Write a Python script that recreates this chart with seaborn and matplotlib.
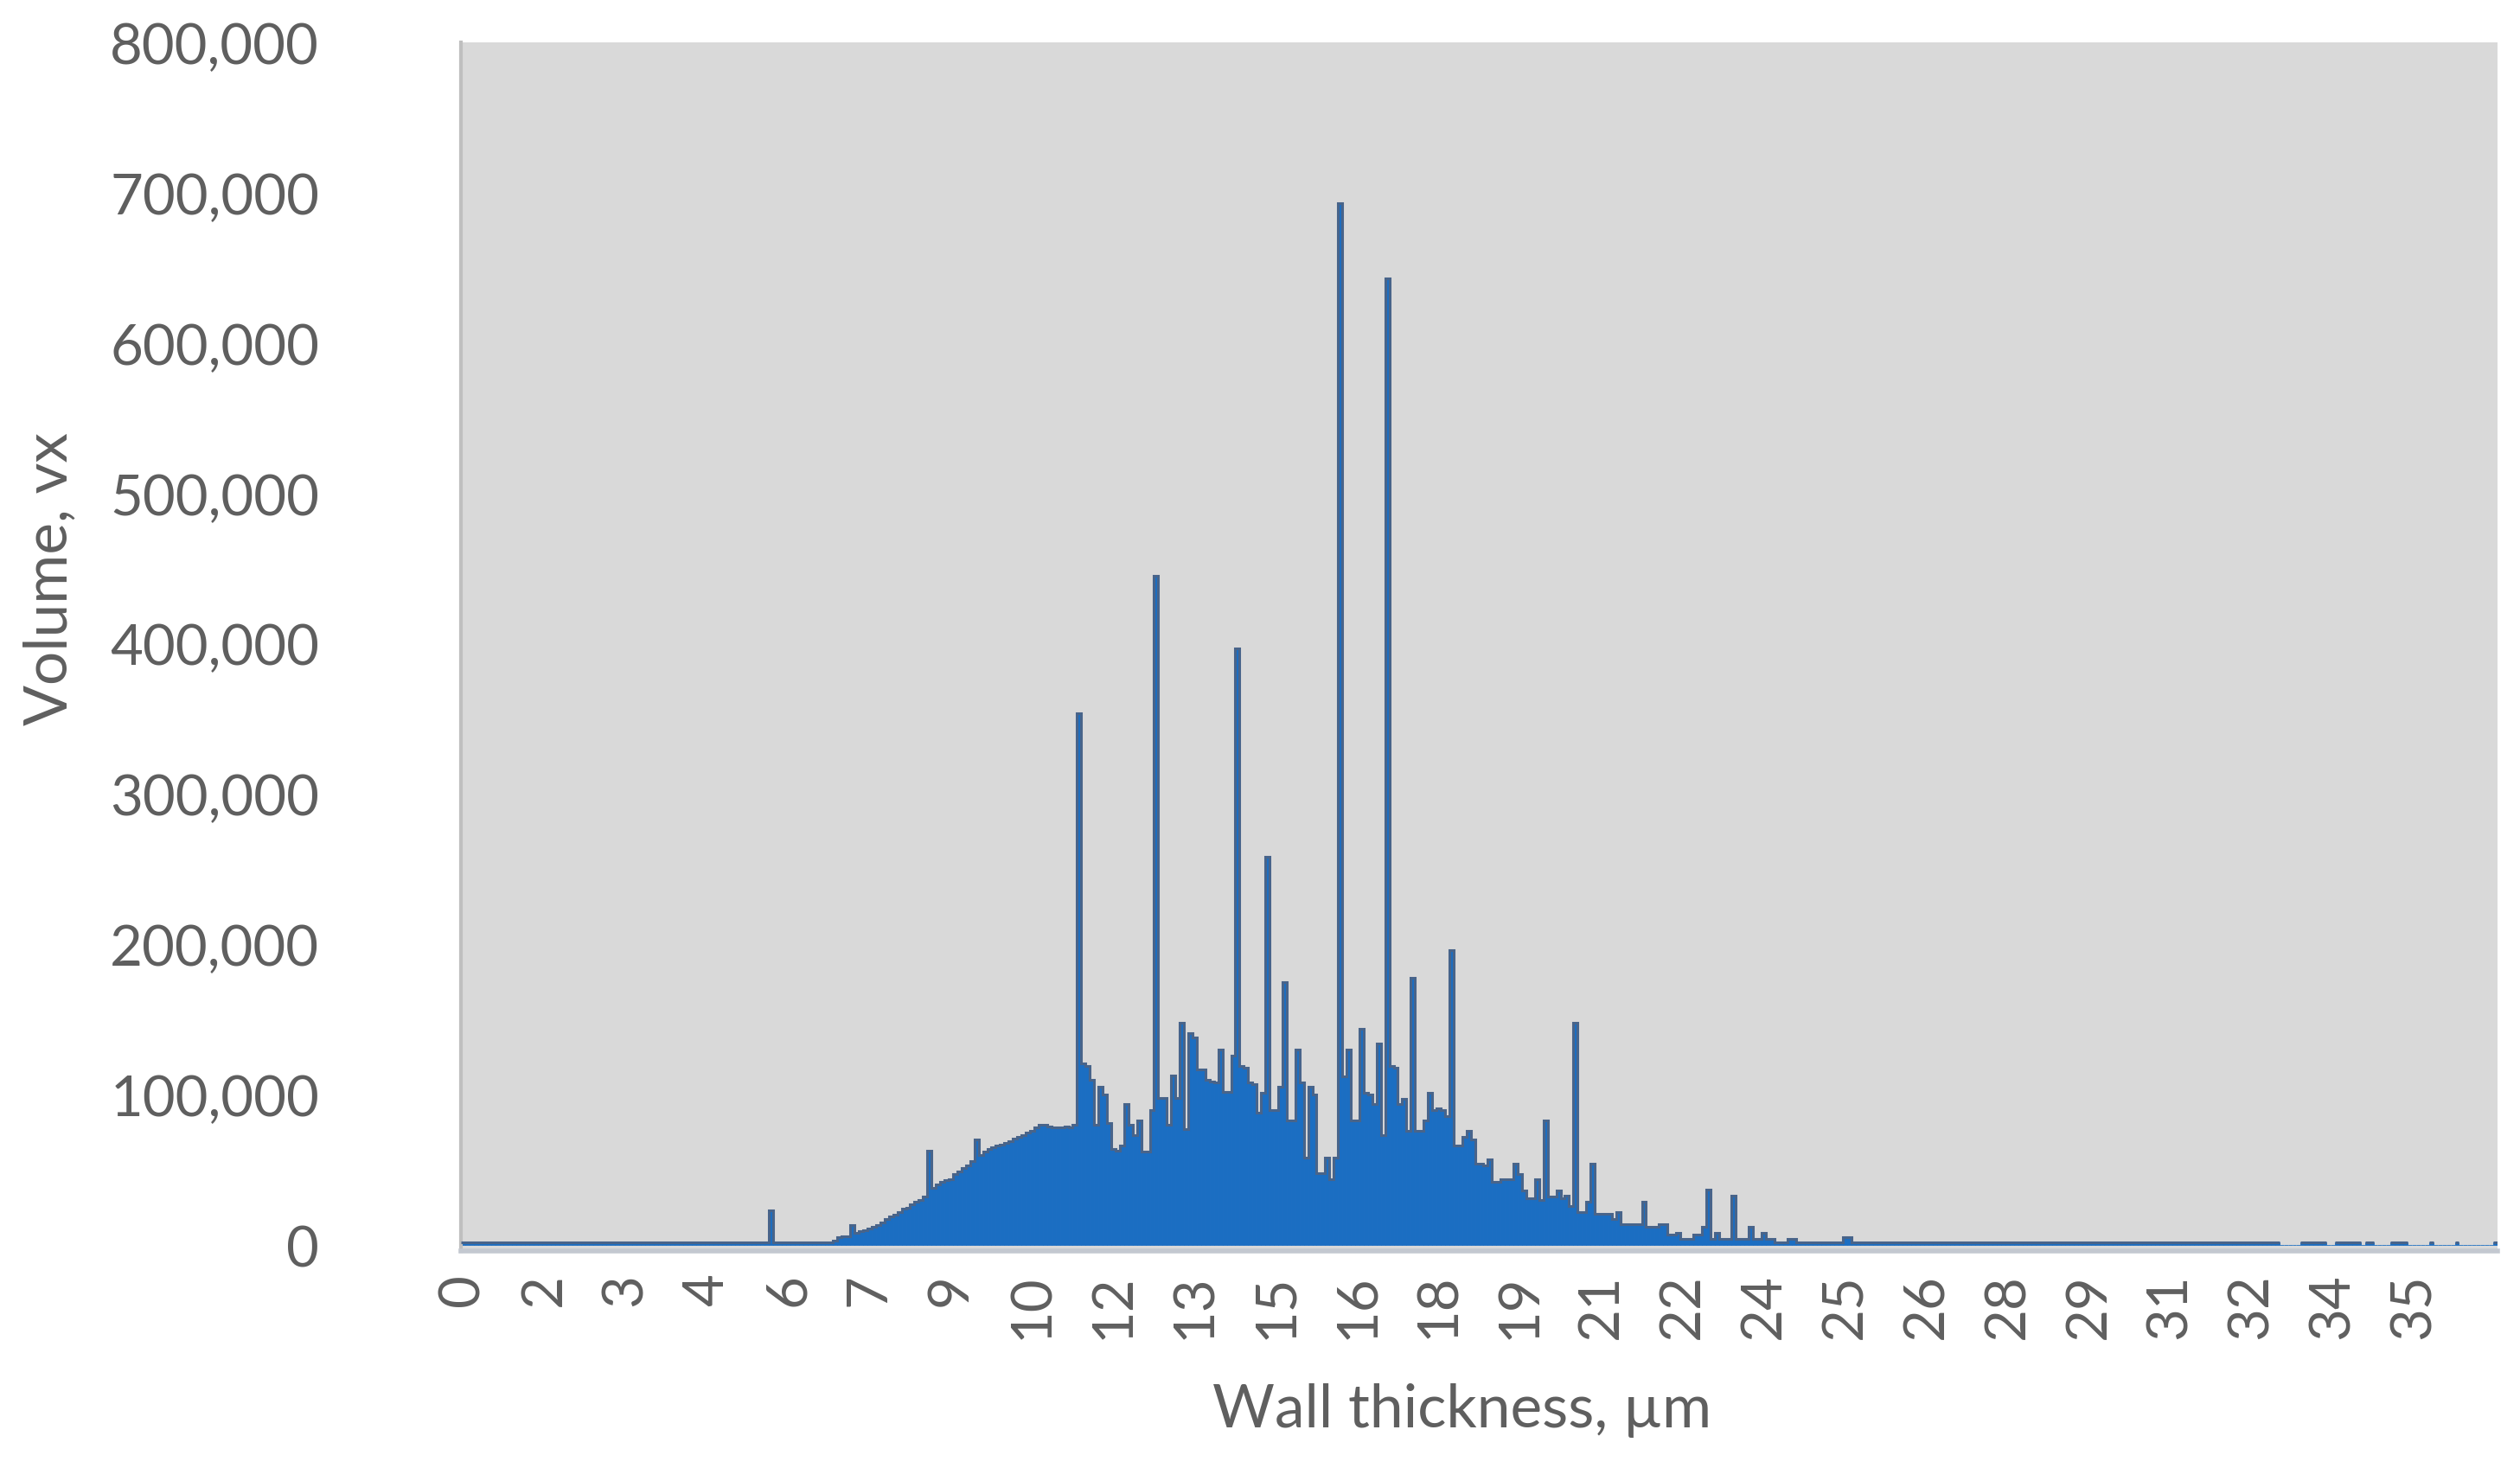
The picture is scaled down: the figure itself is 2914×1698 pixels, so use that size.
import numpy as np
import pandas as pd
import matplotlib
matplotlib.use('Agg')
import matplotlib.pyplot as plt
from matplotlib.ticker import FuncFormatter
import seaborn as sns

# Volume per wall-thickness bin, in thousands of voxels
lead_in = [2] * 72 + [23] + [2] * 13
rise = [2, 3, 5, 6, 6, 13, 8, 9, 10, 11,
        12, 13, 15, 17, 19, 20, 22, 24, 25, 27,
        29, 30, 32, 63, 38, 40, 42, 43, 44, 47,
        49, 51, 53, 56, 70, 60, 62, 64, 65, 66,
        67, 68, 69, 71, 72, 73, 75, 76, 78, 80,
        80, 79, 78, 78, 78, 79, 78, 80]
peak = [354, 121, 119, 110, 80, 105, 100, 81, 64, 63,
        66, 94, 80, 73, 83, 62, 62, 90, 445, 98,
        98, 80, 113, 98, 148, 77, 141, 138, 117, 117,
        110, 109, 108, 130, 102, 102, 126, 397, 119, 118,
        108, 107, 88, 101, 258, 90, 90, 105, 175, 83,
        83, 130, 108, 58, 105, 100, 48, 48, 58, 44,
        58, 693, 112, 130, 83, 83, 144, 101, 100, 94,
        134, 73, 643, 119, 118, 94, 97, 76, 178, 76,
        76, 83, 101, 90, 91, 90, 86, 196, 66, 66]
fall = [72, 76, 70, 54, 54, 53, 57, 42, 42, 44,
        44, 44, 54, 47, 36, 31, 31, 44, 30, 83,
        32, 32, 36, 31, 33, 26, 148, 22, 22, 29,
        54, 21, 21, 21, 21, 17, 22, 14, 14, 14,
        14, 14, 29, 12, 12, 12, 14, 14, 7, 7,
        8, 4, 4, 4, 7, 7, 12, 37, 4, 8,
        4, 4, 4, 33, 4, 4, 4, 12, 4, 4,
        8, 4, 4, 2, 2, 2, 4, 4, 2, 2]
tail = ([2] * 9 + [5, 5] + [2] * 100
        + [0] * 5 + [1.5] * 6 + [0] * 2 + [1.5] * 6 + [0] + [1.5] * 2
        + [0] * 4 + [1.5] * 4 + [0] * 5 + [1.5] + [0] * 5 + [1.5]
        + [0] * 8 + [1.5])
volume_k = lead_in + rise + peak + fall + tail

thickness_labels = ['0', '2', '3', '4', '6', '7', '9', '10', '12', '13',
                    '15', '16', '18', '19', '21', '22', '24', '25', '26',
                    '28', '29', '31', '32', '34', '35']
label_step = 19
ytick_values = [0, 100000, 200000, 300000, 400000, 500000, 600000, 700000,
                800000]

fill = '#1b6ec2'
edge = '#48648a'
text_grey = '#5f5f5f'

sns.set_style('white')
plt.rcParams['font.family'] = ['Lato', 'DejaVu Sans']

df = pd.DataFrame({'bin': np.arange(len(volume_k)),
                   'volume': np.array(volume_k, dtype=float) * 1000})

fig, ax = plt.subplots(figsize=(14.57, 8.495), dpi=200)
fig.subplots_adjust(left=533 / 2914, right=2888 / 2914,
                    bottom=1 - 1448 / 1699, top=1 - 50 / 1699)

sns.barplot(data=df, x='bin', y='volume', color=fill, saturation=1,
            width=1, errorbar=None, linewidth=0.3, edgecolor=fill, ax=ax)

# dark outline along the tops, like the original column chart
outline = np.where(df['volume'] > 0, df['volume'], np.nan)
ax.stairs(outline, np.arange(len(df) + 1) - 0.5, baseline=None,
          color=edge, linewidth=1.1, zorder=3)

ax.set_xlim(-0.5, len(df) - 0.5)
ax.set_ylim(-4000, 800000)
ax.set_xticks(np.arange(len(thickness_labels)) * label_step)
ax.set_xticklabels(thickness_labels, rotation=90)
ax.set_yticks(ytick_values)
ax.yaxis.set_major_formatter(FuncFormatter(lambda v, p: f'{v:,.0f}'))

ax.set_facecolor('#d9d9d9')
ax.tick_params(axis='y', length=0, pad=59, labelsize=23.5,
               colors=text_grey)
ax.tick_params(axis='x', length=0, pad=9, labelsize=23.5,
               colors=text_grey)

ax.set_xlabel('Wall thickness, µm', fontsize=25, color=text_grey)
ax.set_ylabel('Volume, vx', fontsize=25, color=text_grey)
ax.xaxis.label.set_va('center')
ax.yaxis.label.set_va('center')
ax.xaxis.set_label_coords(0.4917, -0.1316)
ax.yaxis.set_label_coords(-0.2017, 0.557)

for side in ['top', 'right']:
    ax.spines[side].set_visible(False)
ax.spines['left'].set_color('#bfbfbf')
ax.spines['left'].set_linewidth(1.5)
ax.spines['bottom'].set_color('#c3c8d0')
ax.spines['bottom'].set_linewidth(2)

plt.savefig('out.png', dpi=200)
